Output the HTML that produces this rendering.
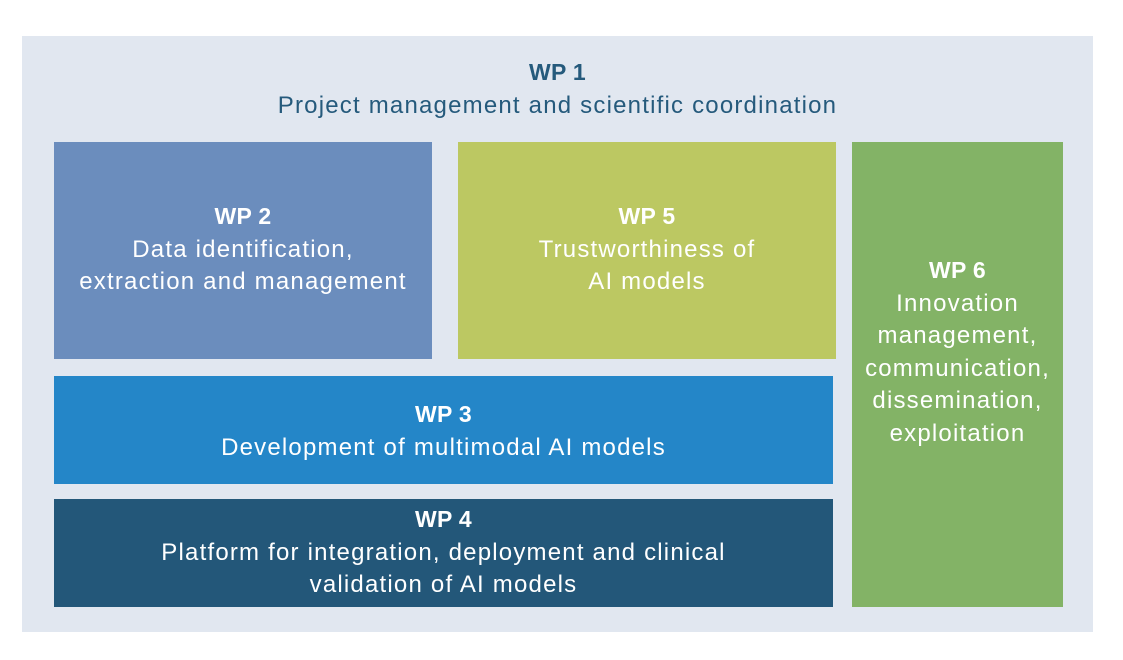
<!DOCTYPE html>
<html><head><meta charset="utf-8"><style>
body{margin:0;width:1123px;height:660px;background:#fff;position:relative;overflow:hidden;font-family:"Liberation Sans",sans-serif;}
.b{position:absolute;}
.t{position:absolute;left:-20px;right:-20px;text-align:center;font-size:24px;letter-spacing:1.2px;line-height:32.5px;color:#fff;}
.t b{font-weight:bold;letter-spacing:0.3px;font-size:23px;}
</style></head><body>
<div class="b" style="left:22px;top:36px;width:1071px;height:596px;background:#e1e7f0"></div>
<div class="t" style="left:22px;width:1071px;top:56px;color:#255a7c"><b>WP 1</b><br>Project management and scientific coordination</div>

<div class="b" style="left:54px;top:142px;width:378px;height:217px;background:#6b8dbd">
 <div class="t" style="top:58px"><b>WP 2</b><br>Data identification,<br>extraction and management</div></div>
<div class="b" style="left:458px;top:142px;width:378px;height:217px;background:#bcc862">
 <div class="t" style="top:58px"><b>WP 5</b><br>Trustworthiness of<br>AI models</div></div>
<div class="b" style="left:852px;top:142px;width:211px;height:465px;background:#83b366">
 <div class="t" style="top:112px"><b>WP 6</b><br>Innovation<br>management,<br>communication,<br>dissemination,<br>exploitation</div></div>
<div class="b" style="left:54px;top:376px;width:779px;height:108px;background:#2486c8">
 <div class="t" style="top:22px"><b>WP 3</b><br>Development of multimodal AI models</div></div>
<div class="b" style="left:54px;top:499px;width:779px;height:108px;background:#235779">
 <div class="t" style="top:4px"><b>WP 4</b><br>Platform for integration, deployment and clinical<br>validation of AI models</div></div>
</body></html>
